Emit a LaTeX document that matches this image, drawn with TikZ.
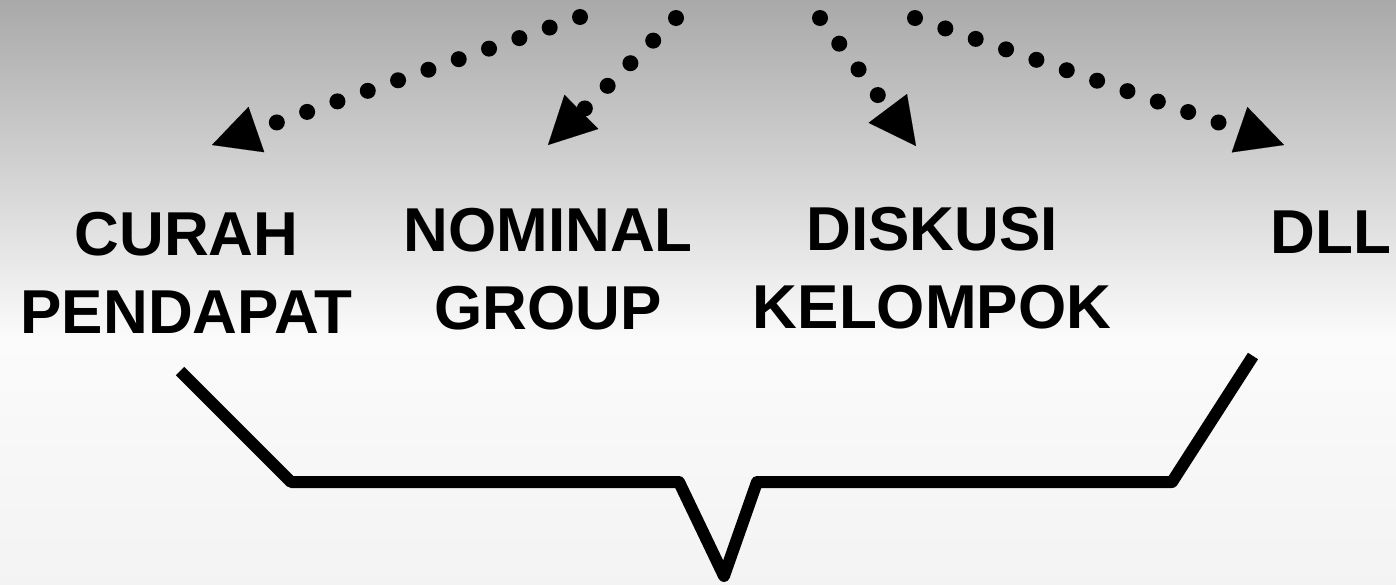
\documentclass[tikz,border=0pt]{standalone}
\usepackage{fontspec}
\setmainfont{Liberation Sans}
\usetikzlibrary{arrows.meta}
\definecolor{bgtop}{HTML}{A9A9A9}
\definecolor{bgmid}{HTML}{FBFBFB}
\definecolor{bgbot}{HTML}{F3F3F3}
\pgfdeclareverticalshading{bgshade}{100bp}{color(0bp)=(bgbot); color(25bp)=(bgbot); color(46bp)=(bgmid); color(75bp)=(bgtop); color(100bp)=(bgtop)}
\begin{document}
\begin{tikzpicture}[x=1pt,y=-1pt,
  lbl/.style={font=\fontsize{62}{78}\selectfont\bfseries, inner sep=0pt, align=center},
  dotarrow/.style={line width=16pt, line cap=round, dash pattern=on 0pt off 32.1pt,
    -{Triangle[length=47pt,width=48pt,line width=0.1pt]}},
  bracket/.style={line width=12pt, line join=round, line cap=butt}]
\shade[shading=bgshade] (0,0) rectangle (1396,584);
\useasboundingbox (0,0) rectangle (1396,584);

% labels
\node[lbl, anchor=north] (curah) at (186.5,211.7) {CURAH\\PENDAPAT};
\node[lbl, anchor=north] (nominal) at (548,207.7) {NOMINAL\\GROUP};
\node[lbl, anchor=north] (diskusi) at (932,206.7) {DISKUSI\\KELOMPOK};
\node[lbl, anchor=base] (dll) at (1331,253) {DLL};

% dotted arrows
\coordinate (s1) at (580,17);  \coordinate (t1) at (212,145);
\coordinate (s2) at (676,18);  \coordinate (t2) at (548,145);
\coordinate (s3) at (820,18);  \coordinate (t3) at (916,146);
\coordinate (s4) at (915,18);  \coordinate (t4) at (1284,145);
\draw[dotarrow] (s1) -- (t1);
\draw[dotarrow] (s2) -- (t2);
\draw[dotarrow] (s3) -- (t3);
\draw[dotarrow] (s4) -- (t4);

% bracket
\coordinate (b1) at (180,371);
\coordinate (b2) at (291,482);
\coordinate (b3) at (679,482);
\coordinate (b4) at (724,576);
\coordinate (b5) at (757,482);
\coordinate (b6) at (1172,482);
\coordinate (b7) at (1253,356);
\draw[bracket] (b1) -- (b2) -- (b3) -- (b4) -- (b5) -- (b6) -- (b7);
\end{tikzpicture}
\end{document}
